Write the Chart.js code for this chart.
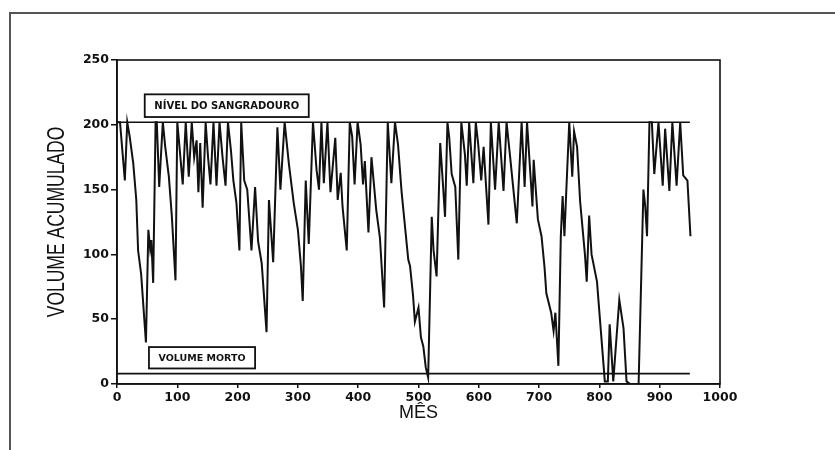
<!DOCTYPE html>
<html><head><meta charset="utf-8">
<script src="https://cdn.jsdelivr.net/npm/chart.js@4.4.1/dist/chart.umd.min.js"></script>
<style>
html,body{margin:0;padding:0;background:#fff;}
#wrap{position:relative;width:835px;height:450px;overflow:hidden;background:#fff;}
#frame{position:absolute;left:9px;top:12px;width:900px;height:500px;border-left:2px solid #555;border-top:2px solid #555;}
canvas{position:absolute;left:0;top:0;}
</style></head><body>
<div id="wrap"><div id="frame"></div><canvas id="c" width="835" height="450"></canvas></div>
<script>
// Month (x) of each vertex of the simulated storage curve
const months = [0,5,13,17,21,27,32,35,40,48,52,55,57,60,64,66,70,76,80,86,91,97,100,104,109,114,119,124,128,132,135,138,142,147,151,155,160,165,170,175,180,184,189,193,198,203,206,211,216,223,229,234,240,248,252,259,266,271,278,285,293,300,305,308,313,318,325,331,335,339,343,349,354,362,366,371,374,381,386,390,394,399,404,408,411,417,422,430,436,443,449,455,461,466,472,483,486,491,494,500,504,508,512,516,522,525,530,536,540,544,548,551,555,561,566,571,577,580,584,591,595,599,604,608,616,620,627,633,641,646,652,663,671,676,680,689,691,698,704,709,712,720,724,727,732,736,739,742,745,750,755,758,763,768,776,779,783,787,796,809,814,817,823,833,840,845,851,865,873,876,879,883,887,891,898,905,909,916,921,928,934,939,946,951];
// Accumulated volume at each vertex
const volume = [202,202,157,202,191,170,142,103,85,32,119,104,111,78,202,202,152,202,183,160,129,80,202,181,154,202,160,202,175,188,148,186,136,202,175,154,202,153,202,175,153,202,180,157,140,103,202,157,150,103,152,110,93,40,142,94,198,150,202,170,140,119,91,64,157,108,202,165,150,202,155,202,148,190,142,163,137,103,202,191,154,202,185,154,172,117,175,134,113,59,202,155,202,185,148,96,91,68,48,59,36,29,13,5,129,103,83,186,158,129,202,190,162,152,96,202,177,153,202,155,202,185,157,183,123,202,150,202,149,202,175,124,202,152,202,137,173,127,114,90,70,55,41,55,14,114,145,114,148,202,160,195,183,141,100,79,130,100,79,2,2,46,2,65,43,2,0,0,150,137,114,202,202,162,202,153,197,149,202,153,202,161,157,114];
// Reference levels
const sangradouroLevel = 202;
const volumeMortoLevel = 8;
const refMonths = [0, 950];
const xTickValues = [0,100,200,300,400,500,600,700,800,900,1000];
const yTickValues = [0,50,100,150,200,250];
const refLabels = ['NÍVEL DO SANGRADOURO', 'VOLUME MORTO'];
const axisTitles = {x:'MÊS', y:'VOLUME ACUMULADO'};

const series = months.map((m,i)=>({x:m, y:volume[i]}));
const sangLine = refMonths.map(m=>({x:m, y:sangradouroLevel}));
const mortoLine = refMonths.map(m=>({x:m, y:volumeMortoLevel}));

const framePlugin = {
  id:'frame',
  afterDraw(chart){
    const {ctx, chartArea:a} = chart;
    ctx.save();
    ctx.strokeStyle='#111'; ctx.lineWidth=1.6;
    ctx.strokeRect(a.left, a.top, a.right-a.left, a.bottom-a.top);
    // stretched vertical axis title (the scan is wider than tall)
    ctx.translate(57, (a.top+a.bottom)/2);
    ctx.rotate(-Math.PI/2);
    ctx.scale(1, 1.4);
    ctx.font = "17.5px 'Liberation Sans', Arial";
    ctx.fillStyle = '#111';
    ctx.textAlign='center'; ctx.textBaseline='middle';
    ctx.fillText(axisTitles.y, 0, 0);
    ctx.restore();
  }
};

const boxPlugin = {
  id:'boxes',
  afterDraw(chart, args, opts){
    const {ctx} = chart;
    const xs = chart.scales.x, ys = chart.scales.y;
    ctx.save();
    opts.items.forEach(it=>{
      const l = xs.getPixelForValue(it.x0), r = xs.getPixelForValue(it.x1);
      const t = ys.getPixelForValue(it.y1), b = ys.getPixelForValue(it.y0);
      ctx.fillStyle='#fff';
      ctx.fillRect(l,t,r-l,b-t);
      ctx.strokeStyle='#111'; ctx.lineWidth=1.8;
      ctx.strokeRect(l,t,r-l,b-t);
      ctx.font = it.font;
      ctx.fillStyle='#111';
      ctx.textAlign='center'; ctx.textBaseline='middle';
      ctx.fillText(it.text,(l+r)/2,(t+b)/2+1);
    });
    ctx.restore();
  }
};

new Chart(document.getElementById('c'), {
  type:'line',
  data:{datasets:[
    {data:series, borderColor:'#111', borderWidth:2, pointRadius:0, tension:0, fill:false},
    {data:sangLine, borderColor:'#111', borderWidth:1.6, pointRadius:0, fill:false},
    {data:mortoLine, borderColor:'#111', borderWidth:1.6, pointRadius:0, fill:false}
  ]},
  options:{
    responsive:false, animation:false, devicePixelRatio:1,
    layout:{padding:{left:0, top:60, right:115, bottom:26}},
    plugins:{legend:{display:false}, tooltip:{enabled:false},
      boxes:{items:[
        {text:refLabels[0], x0:46, x1:318, y0:206, y1:223.5, font:"bold 10px 'DejaVu Sans'"},
        {text:refLabels[1], x0:53, x1:229, y0:12, y1:28.5, font:"bold 9.5px 'DejaVu Sans'"}
      ]}
    },
    scales:{
      x:{type:'linear', min:0, max:1000,
        afterFit(s){ s.height = 40; },
        afterBuildTicks(s){ s.ticks = xTickValues.map(v=>({value:v})); },
        grid:{display:true, drawOnChartArea:false, tickLength:4, color:'#111', lineWidth:1.5},
        border:{display:true, color:'#111', width:1.6},
        ticks:{color:'#111', padding:2, maxRotation:0, autoSkip:false, callback:v=>String(v),
          font:{family:"'DejaVu Sans'", size:12.5, weight:'bold'}},
        title:{display:true, text:axisTitles.x, color:'#111', padding:{top:0,bottom:0}, font:{family:"'Liberation Sans', Arial", size:18}}
      },
      y:{type:'linear', min:0, max:250,
        afterFit(s){ s.width = 117; },
        afterBuildTicks(s){ s.ticks = yTickValues.map(v=>({value:v})); },
        grid:{display:true, drawOnChartArea:false, tickLength:6, color:'#111', lineWidth:1.5},
        border:{display:true, color:'#111', width:1.6},
        ticks:{color:'#111', padding:2, autoSkip:false, callback:v=>String(v),
          font:{family:"'DejaVu Sans'", size:12.5, weight:'bold'}},
        title:{display:false}
      }
    }
  },
  plugins:[framePlugin, boxPlugin]
});
</script>
</body></html>
